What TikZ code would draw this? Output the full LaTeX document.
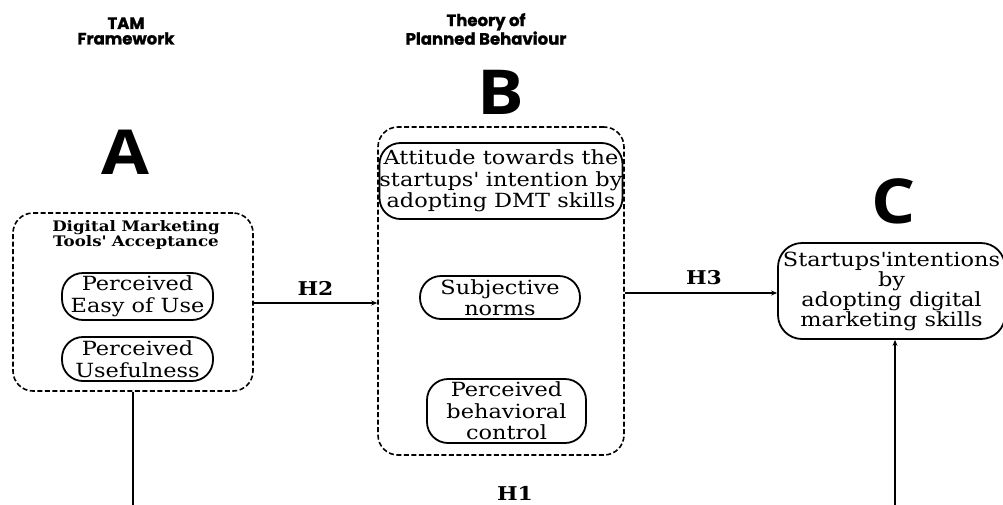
\documentclass[tikz,border=0pt]{standalone}
\usepackage{fontspec}
\setmainfont{DejaVu Serif}[FakeStretch=1.15]
\newfontfamily\headfont{Poppins}[FakeBold=1.2]
\newfontfamily\letterfont{Open Sans}[FakeStretch=1.12]
\usetikzlibrary{arrows.meta}
\tikzset{
  group/.style={draw, line width=1.6pt, dash pattern=on 5pt off 2.5pt, rounded corners=20pt},
  pill/.style={draw, line width=1.8pt, rounded corners=21pt, align=center, inner sep=0pt,
    font=\fontsize{19.5}{21.5}\selectfont},
  heading/.style={align=center, font=\headfont\bfseries\fontsize{16.5}{15.5}\selectfont},
  letter/.style={font=\letterfont\bfseries\fontsize{62}{62}\selectfont},
  hyp/.style={font=\bfseries\fontsize{19}{19}\selectfont},
  link/.style={line width=1.2pt, -{Stealth[length=6pt,width=5pt]}}
}
\newcommand{\apos}{\textquotesingle}
\begin{document}
\begin{tikzpicture}[x=1pt, y=-1pt]
  \useasboundingbox (0,0) rectangle (1003,504);
  % headings and letters
  \node[heading] (tamhead) at (126,31) {TAM\\Framework};
  \node[heading] (tpbhead) at (486,29) {Theory of\\Planned Behaviour};
  \node[letter] (letA) at (125,152) {A};
  \node[letter] (letB) at (501,92) {B};
  \node[letter] (letC) at (894,201) {C};
  % group A
  \node[group, minimum width=240pt, minimum height=178pt] (tam) at (133,302) {};
  \node[align=center, font=\bfseries\fontsize{14.5}{14.5}\selectfont] (tamtitle) at (136,235)
    {Digital Marketing\\Tools\apos{} Acceptance};
  \node[pill, minimum width=151pt, minimum height=47pt] (peou) at (137.5,296.5) {Perceived\\Easy of Use};
  \node[pill, minimum width=151pt, minimum height=44pt] (pu) at (137.5,359) {Perceived\\Usefulness};
  % group B
  \node[group, minimum width=246pt, minimum height=328pt] (tpb) at (501,291) {};
  \node[pill, minimum width=234pt, minimum height=76pt] (att) at (501,181)
    {Attitude towards the\\startups\apos{} intention by\\adopting DMT skills};
  \node[pill, minimum width=160pt, minimum height=43pt] (sn) at (500,297.5) {Subjective\\norms};
  \node[pill, minimum width=159pt, minimum height=64pt] (pbc) at (506.5,411) {Perceived\\behavioral\\control};
  % outcome C
  \node[pill, rounded corners=24pt, minimum width=227pt, minimum height=96pt,
    font=\fontsize{19.5}{20}\selectfont] (intent) at (891.5,291)
    {Startups\apos{}intentions\\by\\adopting digital\\marketing skills};
  % links
  \coordinate (bendA) at (133,510);
  \coordinate (bendC) at (895,510);
  \draw[link] (tam.east |- 0,303) -- node[hyp, above=4pt] (h2) {H2} (tpb.west |- 0,303);
  \draw[link] (tpb.east |- 0,293) -- node[hyp, above=4pt, pos=0.52] (h3) {H3} (intent.west |- 0,293);
  \draw[line width=1.2pt] (tam.south) -- (bendA);
  \draw[link] (bendC) -- (intent.south -| bendC);
  \node[hyp] (h1) at (515,493) {H1};
\end{tikzpicture}
\end{document}
